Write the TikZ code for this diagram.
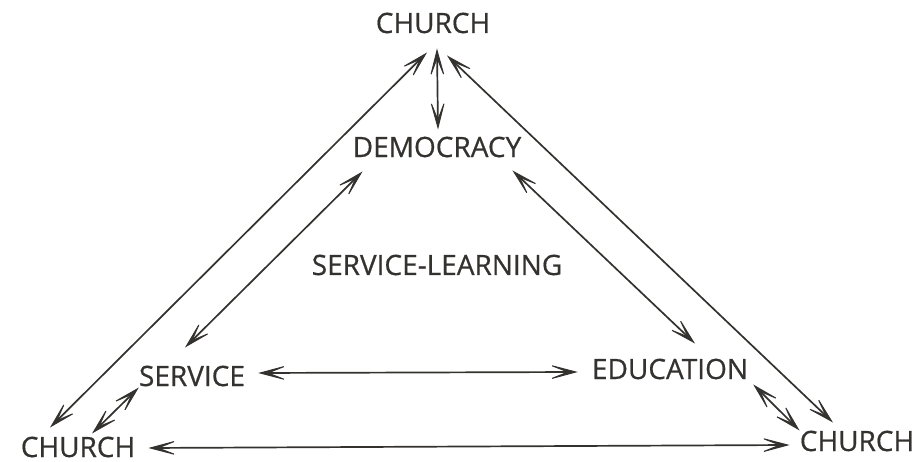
\documentclass[tikz,border=0pt]{standalone}
\usepackage{fontspec}
\setmainfont{Open Sans}
\newfontfamily\inkfont{Open Sans}[FakeBold=0.6]
\usetikzlibrary{arrows.meta,calc}
\definecolor{ink}{HTML}{34322F}
\begin{document}
\begin{tikzpicture}[x=1pt,y=-1pt,
  word/.style={text=ink,inner sep=2pt,font=\inkfont\fontsize{28}{30}\selectfont},
  >={Stealth[length=34pt,width=18pt,inset=23pt,line width=1pt]},
  link/.style={draw=ink,line width=1.7pt,<->}]
\useasboundingbox (0,0) rectangle (922,462);
\node[word] (topc) at (433,23) {CHURCH};
\node[word] (demo) at (437,147) {DEMOCRACY};
\node[word] (sl) at (437,265) {SERVICE-LEARNING};
\node[word] (serv) at (192,376) {SERVICE};
\node[word] (educ) at (670,369) {EDUCATION};
\node[word] (lchurch) at (78,447) {CHURCH};
\node[word] (rchurch) at (857,441) {CHURCH};
% outer triangle
\draw[link] ($(topc.south)+(-6,17)$) -- ($(lchurch.north)+(-28,-7)$);
\draw[link] ($(topc.south)+(14,20)$) -- ($(rchurch.north)+(-24,-6)$);
\draw[link] ($(lchurch.east)+(11,1)$) -- ($(rchurch.west)+(-8,4)$);
% inner triangle
\draw[link] ($(topc.south)+(4,13)$) -- ($(demo.north)+(1,-5)$);
\draw[link] ($(demo.south west)+(12,12)$) -- ($(serv.north)+(-7,-16)$);
\draw[link] ($(demo.south east)+(-11,11)$) -- ($(educ.north)+(25,-13)$);
\draw[link] ($(serv.east)+(11,-3)$) -- ($(educ.west)+(-12,3)$);
% corners
\draw[link] ($(serv.south west)+(2,-1)$) -- ($(lchurch.north)+(14,-1)$);
\draw[link] ($(educ.south east)+(3,3)$) -- ($(rchurch.north west)+(2,2)$);
\end{tikzpicture}
\end{document}
